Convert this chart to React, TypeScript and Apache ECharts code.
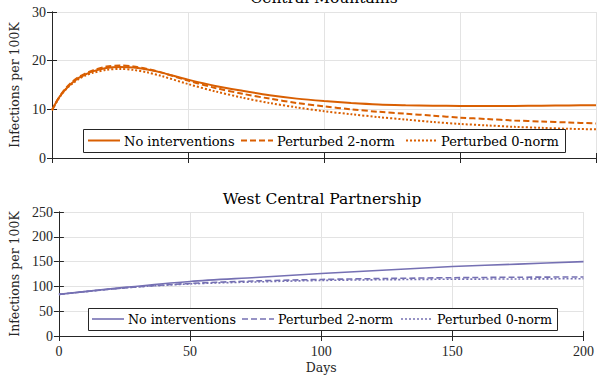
import React, { useEffect, useRef } from "react";
import * as echarts from "echarts";

const topDays = [0, 2, 4, 6, 8, 10, 12, 15, 20, 25, 30, 35, 40, 50, 60, 70, 80, 90, 100, 110, 120, 130, 140, 150, 160, 170, 180, 190, 200];
const cmNone = [9.8, 11.9, 13.5, 14.7, 15.7, 16.5, 17.1, 17.8, 18.5, 18.7, 18.6, 18.2, 17.6, 16.1, 14.8, 13.8, 12.9, 12.2, 11.7, 11.3, 11.0, 10.85, 10.75, 10.7, 10.7, 10.7, 10.75, 10.8, 10.85];
const cm2norm = [9.8, 11.9, 13.6, 14.9, 15.9, 16.7, 17.3, 18.0, 18.8, 19.0, 18.8, 18.3, 17.6, 15.9, 14.4, 13.2, 12.2, 11.3, 10.6, 10.0, 9.5, 9.1, 8.7, 8.3, 8.0, 7.7, 7.5, 7.3, 7.1];
const cm0norm = [9.8, 11.8, 13.4, 14.6, 15.5, 16.3, 16.9, 17.5, 18.1, 18.3, 18.1, 17.6, 16.9, 15.2, 13.7, 12.4, 11.3, 10.4, 9.6, 9.0, 8.4, 7.9, 7.4, 7.0, 6.7, 6.4, 6.2, 6.0, 5.9];

const botDays = [0, 25, 50, 75, 100, 125, 150, 175, 200];
const wcNone = [84, 98, 110, 118, 126, 133, 140, 145, 150];
const wc2norm = [84, 97, 106, 111, 114, 116, 117.5, 118.5, 119];
const wc0norm = [84, 97, 105, 109, 112, 113.5, 114.5, 115, 115.5];

const seriesNames = ["No interventions", "Perturbed 2-norm", "Perturbed 0-norm"];
const titles = ["Central Mountains", "West Central Partnership"];

const ORANGE = "#D95F02";
const PURPLE = "#7570B3";
const NUMFONT = "Liberation Serif";
const WORDFONT = "DejaVu Serif";
const AXIS = "#262626";
const GRIDC = "#e3e3e3";

const pair = (xs: number[], ys: number[]) => xs.map((x, i) => [x, ys[i]]);

export default function App() {
  const ref = useRef<HTMLDivElement>(null);
  useEffect(() => {
    if (!ref.current) return;
    const chart = echarts.init(ref.current, undefined, { renderer: "svg" });
    const axisLine = { show: true, lineStyle: { color: AXIS, width: 1 } };
    const tick = { show: true, inside: true, length: 5, lineStyle: { color: AXIS } };
    const label = { color: "#262626", fontFamily: NUMFONT, fontSize: 14 };
    const split = { show: true, lineStyle: { color: GRIDC, width: 1 } };
    const mkX = (grid: number, pos: string, showLabel: boolean, name?: string) => ({
      type: "value", gridIndex: grid, position: pos, min: 0, max: 200, interval: 50,
      axisLine, axisTick: tick, splitLine: pos === "bottom" ? split : { show: false },
      axisLabel: { ...label, show: showLabel, margin: 8 },
      name: name || "", nameLocation: "middle", nameGap: 25,
      nameTextStyle: { fontFamily: WORDFONT, fontSize: 12.5, color: "#262626" },
    });
    const mkY = (grid: number, pos: string, max: number, interval: number, showLabel: boolean, gap: number) => ({
      type: "value", gridIndex: grid, position: pos, min: 0, max, interval,
      axisLine, axisTick: tick, splitLine: pos === "left" ? split : { show: false },
      axisLabel: { ...label, show: showLabel, margin: 6 },
      name: pos === "left" ? "Infections per 100K" : "", nameLocation: "middle", nameGap: gap, nameRotate: 90,
      nameTextStyle: { fontFamily: WORDFONT, fontSize: 12.5, color: "#262626" },
    });
    const dashes: any[] = [null, [6, 3], [2, 2]];
    const styleOf = (i: number) => (i === 0 ? "solid" : dashes[i]);
    const mkSeries = (grid: number, days: number[], vals: number[][], color: string, width: number) =>
      vals.map((v, i) => ({
        type: "line", name: seriesNames[i], xAxisIndex: grid * 2, yAxisIndex: grid * 2,
        data: pair(days, v), smooth: 0.3, showSymbol: false, symbol: "none",
        lineStyle: { color, width, type: styleOf(i) }, itemStyle: { color },
      }));

    // manual legends
    const mkLegend = (box: number[], items: number[][], color: string, width: number, fontSize: number) => {
      const [x0, y0, x1, y1] = box;
      const cy = (y0 + y1) / 2;
      const els: any[] = [
        { type: "rect", shape: { x: x0 + 0.5, y: y0 + 0.5, width: x1 - x0, height: y1 - y0 }, style: { fill: "#fff", stroke: "#262626", lineWidth: 1 }, z: 50 },
      ];
      items.forEach(([lx, tx], i) => {
        els.push({ type: "line", shape: { x1: lx, y1: cy, x2: lx + 32, y2: cy }, style: { stroke: color, lineWidth: width, lineDash: dashes[i] || undefined }, z: 51 });
        els.push({ type: "text", style: { text: seriesNames[i], x: tx, y: cy + 0.5, verticalAlign: "middle", fontFamily: WORDFONT, fontSize, fill: "#000" }, z: 51 });
      });
      return els;
    };

    chart.setOption({
      animation: false,
      grid: [
        { left: 52, right: 1, top: 12, height: 146 },
        { left: 57, right: 8, top: 212, height: 124 },
      ],
      xAxis: [
        mkX(0, "bottom", false), mkX(0, "top", false),
        mkX(1, "bottom", true, "Days"), mkX(1, "top", false),
      ],
      yAxis: [
        mkY(0, "left", 30, 10, true, 30), mkY(0, "right", 30, 10, false, 0),
        mkY(1, "left", 250, 50, true, 33), mkY(1, "right", 250, 50, false, 0),
      ],
      graphic: [
        { type: "text", style: { text: titles[0], x: 324, y: 6, align: "center", verticalAlign: "bottom", fontFamily: WORDFONT, fontSize: 15.5, fill: "#000" } },
        { type: "text", style: { text: titles[1], x: 322, y: 207, align: "center", verticalAlign: "bottom", fontFamily: WORDFONT, fontSize: 15.5, fill: "#000" } },
        ...mkLegend([83, 129, 565, 152], [[88, 124], [241, 277], [406, 441]], ORANGE, 2, 13),
        ...mkLegend([88, 308, 557, 330], [[92, 128], [242, 278], [401, 437]], PURPLE, 1.6, 12.7),
      ],
      series: [
        ...mkSeries(0, topDays, [cmNone, cm2norm, cm0norm], ORANGE, 2),
        ...mkSeries(1, botDays, [wcNone, wc2norm, wc0norm], PURPLE, 1.6),
      ],
    });
    return () => chart.dispose();
  }, []);
  return <div ref={ref} style={{ width: 597, height: 376, position: "absolute", left: 0, top: 0 }} />;
}
